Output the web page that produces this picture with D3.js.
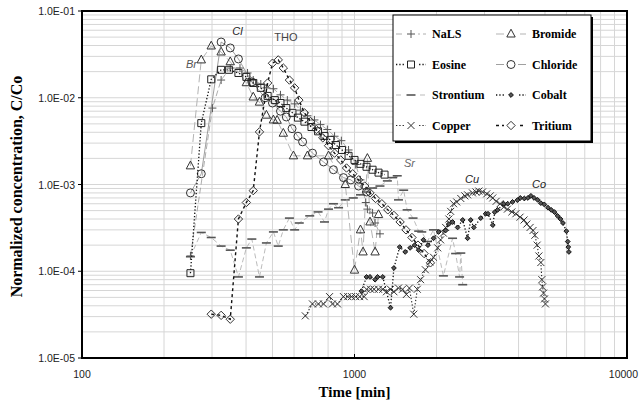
<!DOCTYPE html>
<html lang="en">
<head>
    <meta charset="UTF-8">
    <title>Breakthrough curves</title>
    <script src="https://d3js.org/d3.v7.min.js"></script>
    <style>
        body { margin: 0; padding: 0; background: #fff; }
        svg { display: block; }
        .tick-label { font-family: "Liberation Sans", Arial, sans-serif; font-size: 10.5px; fill: #222; }
        .axis-title { font-family: "Liberation Serif", "Times New Roman", serif; font-weight: bold; fill: #000; }
        .legend-text { font-family: "Liberation Serif", "Times New Roman", serif; font-weight: bold; font-size: 12px; fill: #000; }
        .curve-label { font-family: "Liberation Sans", Arial, sans-serif; font-size: 11px; }
    </style>
</head>
<body>
<svg id="chart"></svg>
<script>
    // ---- data: [time (min), C/Co] ----
    const nals = [[250,1.5e-4],[301,7.6e-3],[324,1.6e-2],[350,2.2e-2],[380,2.2e-2],[405,1.93e-2],[425,1.6e-2],[453,1.44e-2],[475,1.3e-2],[504,1.27e-2],[535,1.08e-2],[567,9.4e-3],[603,8.5e-3],[633,7.2e-3],[672,6.2e-3],[713,5.55e-3],[750,4.9e-3],[795,4.3e-3],[845,3.6e-3],[895,3.2e-3],[951,2.5e-3],[1010,1.7e-3],[1052,1.13e-3],[1100,6.2e-4],[1115,5.2e-4],[1165,4.7e-4],[1190,3.6e-4],[1240,2.7e-4]];
    const bromide = [[250,1.64e-3],[274,2.73e-2],[298,3.95e-2],[324,3.37e-2],[350,2.6e-2],[401,1.49e-2],[425,1.02e-2],[448,8.9e-3],[475,6.3e-3],[504,5.55e-3],[520,5.5e-3],[548,3.9e-3],[597,2.14e-3],[672,2.14e-3],[803,2.14e-3],[925,1.0e-3],[1000,1.03e-4],[1052,3.0e-4],[1075,1.67e-4],[1115,2.0e-3],[1140,3.7e-4],[1190,1.67e-4],[1225,4.5e-4]];
    const eosine = [[250,9.5e-5],[274,5.1e-3],[298,1.63e-2],[324,2.1e-2],[346,2.1e-2],[375,1.93e-2],[401,1.74e-2],[425,1.48e-2],[453,1.3e-2],[480,1.05e-2],[510,9.4e-3],[535,8.7e-3],[562,7.6e-3],[592,6.7e-3],[620,5.9e-3],[655,5.3e-3],[695,4.6e-3],[735,4.1e-3],[776,3.63e-3],[815,3.27e-3],[855,2.85e-3],[900,2.5e-3],[951,2.14e-3],[1000,1.92e-3],[1052,1.73e-3],[1107,1.6e-3],[1165,1.48e-3],[1225,1.37e-3],[1289,1.3e-3]];
    const chloride = [[250,8.0e-4],[274,1.33e-3],[324,4.39e-2],[350,3.75e-2],[375,2.8e-2],[420,1.52e-2],[470,1.0e-2],[500,8.7e-3],[535,7.0e-3],[562,6.0e-3],[590,4.4e-3],[620,3.6e-3],[645,3.1e-3],[701,2.3e-3],[770,1.82e-3],[837,1.48e-3],[911,1.2e-3],[970,1.13e-3],[1035,9.6e-4],[1107,8.2e-4]];
    const strontium = [[250,1.47e-4],[274,2.8e-4],[298,2.45e-4],[324,1.95e-4],[350,1.75e-4],[375,8.6e-5],[401,1.86e-4],[420,2.35e-4],[448,8.6e-5],[475,2.12e-4],[504,2.84e-4],[525,1.95e-4],[548,3.0e-4],[577,4.1e-4],[603,3.0e-4],[627,3.6e-4],[685,4.35e-4],[735,4.83e-4],[776,3.7e-4],[803,5.2e-4],[837,6.0e-4],[874,5.4e-4],[925,6.65e-4],[990,7.0e-4],[1052,7.6e-4],[1107,8.2e-4],[1165,9.1e-4],[1240,9.6e-4],[1320,1.1e-3],[1380,1.2e-3],[1435,1.26e-3],[1450,6.65e-4],[1515,8.6e-4],[1560,5.1e-4],[1640,4.1e-4],[1720,2.9e-4],[1765,2.84e-4],[1850,2.2e-4],[1950,3.0e-4],[2120,8.85e-5],[2290,2.4e-4],[2350,1.6e-4],[2430,8.6e-5],[2455,1.62e-4],[2495,7.0e-5]];
    const cobalt = [[1060,5.9e-5],[1107,8.6e-5],[1140,8.6e-5],[1190,8.0e-5],[1215,8.6e-5],[1270,8.6e-5],[1356,3.8e-5],[1395,1.09e-4],[1465,1.9e-4],[1535,1.67e-4],[1600,1.86e-4],[1662,2.0e-4],[1720,1.75e-4],[1790,2.3e-4],[1860,2.0e-4],[1950,2.4e-4],[2036,2.84e-4],[2160,2.95e-4],[2220,3.5e-4],[2290,3.7e-4],[2390,3.2e-4],[2495,3.9e-4],[2600,2.4e-4],[2670,3.9e-4],[2740,3.2e-4],[2906,4.1e-4],[3030,4.6e-4],[3090,4.6e-4],[3217,3.4e-4],[3270,4.8e-4],[3350,5.1e-4],[3530,6.0e-4],[3650,6.0e-4],[3800,6.3e-4],[3960,6.6e-4],[4060,7.0e-4],[4200,6.9e-4],[4330,7.0e-4],[4440,7.4e-4],[4560,7.0e-4],[4700,6.65e-4],[4829,6.1e-4],[4970,5.9e-4],[5130,5.4e-4],[5270,5.1e-4],[5420,4.8e-4],[5560,4.35e-4],[5700,4.0e-4],[5820,3.6e-4],[5990,2.9e-4],[6060,2.2e-4],[6090,1.9e-4],[6121,1.67e-4]];
    const copper = [[660,3.06e-5],[701,4.2e-5],[737,4.2e-5],[770,4.2e-5],[810,5.1e-5],[830,4.2e-5],[866,4.2e-5],[911,5.1e-5],[945,5.1e-5],[975,5.1e-5],[1010,5.1e-5],[1045,5.1e-5],[1085,5.1e-5],[1107,6.2e-5],[1145,6.2e-5],[1180,6.2e-5],[1225,6.2e-5],[1270,6.2e-5],[1310,5.8e-5],[1356,6.2e-5],[1395,5.8e-5],[1450,6.4e-5],[1500,6.2e-5],[1550,5.4e-5],[1590,6.4e-5],[1650,3.2e-5],[1700,6.2e-5],[1748,8.0e-5],[1820,1.04e-4],[1890,1.28e-4],[1950,1.45e-4],[2020,1.86e-4],[2070,2.3e-4],[2120,2.75e-4],[2160,3.2e-4],[2220,4.0e-4],[2254,4.9e-4],[2310,6.0e-4],[2371,6.3e-4],[2455,6.9e-4],[2540,7.4e-4],[2600,7.6e-4],[2710,8.0e-4],[2790,8.2e-4],[2860,8.4e-4],[2950,8.2e-4],[3057,7.8e-4],[3150,7.4e-4],[3217,7.0e-4],[3310,6.4e-4],[3420,6.0e-4],[3530,5.5e-4],[3640,5.2e-4],[3780,4.83e-4],[3910,4.6e-4],[4050,4.2e-4],[4190,3.9e-4],[4290,3.5e-4],[4410,3.2e-4],[4520,2.95e-4],[4590,2.6e-4],[4680,2.0e-4],[4750,1.5e-4],[4829,1.26e-4],[4870,8.0e-5],[4900,6.6e-5],[4940,5.6e-5],[4980,4.8e-5],[5020,4.2e-5]];
    const tritium = [[298,3.2e-5],[324,3.1e-5],[350,2.8e-5],[375,4.0e-4],[401,6.2e-4],[425,8.5e-4],[448,4.04e-3],[480,1.48e-2],[500,2.5e-2],[525,2.73e-2],[548,2.2e-2],[577,1.6e-2],[603,1.3e-2],[625,9.4e-3],[655,6.7e-3],[690,5.3e-3],[725,4.3e-3],[765,3.45e-3],[803,2.8e-3],[845,2.3e-3],[890,1.92e-3],[935,1.55e-3],[985,1.33e-3],[1035,1.13e-3],[1090,9.6e-4],[1140,8.0e-4],[1195,6.9e-4],[1260,6.0e-4],[1325,5.1e-4],[1395,4.4e-4],[1470,3.7e-4],[1545,3.0e-4],[1625,2.45e-4],[1710,2.0e-4],[1800,1.6e-4],[1900,1.25e-4]];

    const xTicks = [100, 1000, 10000];
    const xTickLabels = ["100", "1000", "10000"];
    const yTicks = [1e-5, 1e-4, 1e-3, 1e-2, 1e-1];
    const yTickLabels = ["1.0E-05", "1.0E-04", "1.0E-03", "1.0E-02", "1.0E-01"];

    // curve annotations: [text, time, C/Co, italic, colour]
    const curveLabels = [["Br", 252, 2.2e-2, true, "#555"], ["Cl", 372, 5.3e-2, true, "#222"], ["THO", 560, 4.5e-2, false, "#444"],
                         ["Sr", 1590, 1.6e-3, true, "#666"], ["Cu", 2700, 1.05e-3, true, "#222"], ["Co", 4760, 9.2e-4, true, "#222"]];

    const width = 639, height = 405;
    const svg = d3.select("#chart").attr("width", width).attr("height", height);

    const x = d3.scaleLog().domain([100, 10000]).range([82, 627]);
    const y = d3.scaleLog().domain([1e-5, 1e-1]).range([358, 11]);

    // grid lines (major + minor, both axes)
    const grid = svg.append("g");
    const minorX = [], minorY = [];
    for (let d = 100; d < 10000; d *= 10) for (let k = 1; k < 10; k++) minorX.push(d * k);
    for (let d = 1e-5; d < 0.099; d *= 10) for (let k = 1; k < 10; k++) minorY.push(d * k);
    grid.selectAll(".gx").data(minorX).enter().append("line")
        .attr("x1", d => x(d)).attr("x2", d => x(d)).attr("y1", y(1e-5)).attr("y2", y(1e-1))
        .attr("stroke", "#d6d6d6").attr("stroke-width", 1);
    grid.selectAll(".gy").data(minorY).enter().append("line")
        .attr("x1", x(100)).attr("x2", x(10000)).attr("y1", d => y(d)).attr("y2", d => y(d))
        .attr("stroke", "#d6d6d6").attr("stroke-width", 1);

    // marker shapes
    function markerPath(type, s) {
        switch (type) {
            case "plus": return `M${-s},0H${s}M0,${-s}V${s}`;
            case "cross": return `M${-s},${-s}L${s},${s}M${-s},${s}L${s},${-s}`;
            case "triangle": return `M0,${-s * 1.2}L${s * 1.05},${s * 0.75}L${-s * 1.05},${s * 0.75}Z`;
            case "square": return `M${-s},${-s}H${s}V${s}H${-s}Z`;
            case "circle": return `M${s},0A${s},${s} 0 1,1 ${-s},0A${s},${s} 0 1,1 ${s},0Z`;
            case "diamond": return `M0,${-s}L${s},0L0,${s}L${-s},0Z`;
            case "bar": return `M${-s},0H${s}`;
        }
    }

    const series = [
        { name: "NaLS", data: nals, marker: "plus", size: 4, fill: "none", mstroke: "#555", mw: 1, line: "#999", lw: 0.8, dash: "6,3" },
        { name: "Eosine", data: eosine, marker: "square", size: 3.5, fill: "none", mstroke: "#222", mw: 1, line: "#111", lw: 1.3, dash: "1.3,2" },
        { name: "Strontium", data: strontium, marker: "bar", size: 4.5, fill: "none", mstroke: "#555", mw: 1.6, line: "#aaa", lw: 0.8, dash: "5,3" },
        { name: "Copper", data: copper, marker: "cross", size: 3.5, fill: "none", mstroke: "#333", mw: 1, line: "#222", lw: 1.1, dash: "1.3,2" },
        { name: "Bromide", data: bromide, marker: "triangle", size: 4, fill: "none", mstroke: "#333", mw: 1, line: "#aaa", lw: 0.9, dash: "8,4" },
        { name: "Chloride", data: chloride, marker: "circle", size: 4, fill: "none", mstroke: "#333", mw: 1, line: "#888", lw: 0.8, dash: null },
        { name: "Cobalt", data: cobalt, marker: "diamond", size: 2.4, fill: "#555", mstroke: "#111", mw: 1, line: "#111", lw: 1.3, dash: "1.3,2" },
        { name: "Tritium", data: tritium, marker: "diamond", size: 4.2, fill: "none", mstroke: "#333", mw: 1, line: "#111", lw: 1.4, dash: "3,3" }
    ];

    const lineGen = d3.line().x(d => x(d[0])).y(d => y(d[1]));
    const drawOrder = ["Strontium", "Bromide", "NaLS", "Chloride", "Eosine", "Tritium", "Copper", "Cobalt"];
    drawOrder.forEach(nm => {
        const s = series.find(e => e.name === nm);
        const g = svg.append("g");
        g.append("path").datum(s.data).attr("d", lineGen)
            .attr("fill", "none").attr("stroke", s.line).attr("stroke-width", s.lw)
            .attr("stroke-dasharray", s.dash);
        g.selectAll("path.m").data(s.data).enter().append("path").attr("class", "m")
            .attr("transform", d => `translate(${x(d[0])},${y(d[1])})`)
            .attr("d", markerPath(s.marker, s.size))
            .attr("fill", s.fill).attr("stroke", s.mstroke).attr("stroke-width", s.mw);
    });

    // curve labels
    svg.selectAll(".curve-label").data(curveLabels).enter().append("text")
        .attr("class", "curve-label")
        .attr("x", d => x(d[1])).attr("y", d => y(d[2]))
        .attr("text-anchor", "middle")
        .attr("font-style", d => d[3] ? "italic" : "normal")
        .attr("font-size", d => d[0] === "Cl" ? 12 : 11)
        .attr("fill", d => d[4])
        .text(d => d[0]);

    // plot frame
    svg.append("rect").attr("x", x(100)).attr("y", y(1e-1))
        .attr("width", x(10000) - x(100)).attr("height", y(1e-5) - y(1e-1))
        .attr("fill", "none").attr("stroke", "#000").attr("stroke-width", 2);

    // ticks and tick labels
    svg.selectAll(".yt").data(yTicks).enter().append("line")
        .attr("x1", x(100) - 4).attr("x2", x(100)).attr("y1", d => y(d)).attr("y2", d => y(d))
        .attr("stroke", "#000");
    svg.selectAll(".xt").data(xTicks).enter().append("line")
        .attr("x1", d => x(d)).attr("x2", d => x(d)).attr("y1", y(1e-5)).attr("y2", y(1e-5) - 4)
        .attr("stroke", "#000");
    svg.selectAll(".ylab").data(yTicks).enter().append("text")
        .attr("class", "tick-label").attr("text-anchor", "end")
        .attr("x", x(100) - 7).attr("y", d => y(d) + 4)
        .text((d, i) => yTickLabels[i]);
    // last x label sits against the right edge of the page
    svg.selectAll(".xlab").data(xTicks).enter().append("text")
        .attr("class", "tick-label")
        .attr("text-anchor", (d, i) => i === xTicks.length - 1 ? "end" : "middle")
        .attr("x", (d, i) => i === xTicks.length - 1 ? width - 1 : x(d)).attr("y", y(1e-5) + 20)
        .text((d, i) => xTickLabels[i]);

    // axis titles
    svg.append("text").attr("class", "axis-title").attr("font-size", 15)
        .attr("text-anchor", "middle").attr("x", x(1000)).attr("y", 397).text("Time [min]");
    svg.append("text").attr("class", "axis-title").attr("font-size", 16)
        .attr("text-anchor", "middle")
        .attr("transform", `translate(22,${(y(1e-5) + y(1e-1)) / 2 + 2}) rotate(-90)`)
        .text("Normalized concentration, C/Co");

    // legend
    const legend = svg.append("g");
    legend.append("rect").attr("x", 395).attr("y", 17).attr("width", 198).attr("height", 126).attr("fill", "#000");
    legend.append("rect").attr("x", 393).attr("y", 15).attr("width", 198).attr("height", 126)
        .attr("fill", "#fff").attr("stroke", "#000").attr("stroke-width", 1);
    series.forEach((s, i) => {
        const col = i < 4 ? 0 : 1, row = i % 4;
        const lx = 396 + col * 100, ly = 34 + row * 30.5;
        const item = legend.append("g").attr("transform", `translate(${lx},${ly})`);
        item.append("line").attr("x1", 0).attr("x2", 30).attr("y1", 0).attr("y2", 0)
            .attr("stroke", s.line).attr("stroke-width", s.lw).attr("stroke-dasharray", s.dash);
        item.append("rect").attr("x", 8).attr("y", -5).attr("width", 14).attr("height", 10).attr("fill", "#fff");
        item.append("path").attr("transform", "translate(15,0)")
            .attr("d", markerPath(s.marker, s.size))
            .attr("fill", s.fill).attr("stroke", s.mstroke).attr("stroke-width", s.mw);
        item.append("text").attr("class", "legend-text").attr("x", 36).attr("y", 4).text(s.name);
    });
</script>
</body>
</html>
